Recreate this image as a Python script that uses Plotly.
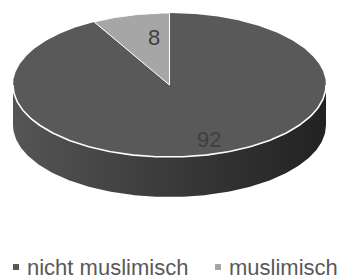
import numpy as np
import plotly.graph_objects as go

# ---- data ----
categories = ["nicht muslimisch", "muslimisch"]
values = [92, 8]
top_colors = ["#595959", "#a6a6a6"]

# ---- geometry (pixel space) ----
W, H = 339, 277
cx, cy = 169.5, 85.0
rx, ry = 156.5, 72.0
depth = 40.0

def ell(theta_deg, dy=0.0):
    t = np.radians(theta_deg)
    return cx + rx * np.cos(t), cy - ry * np.sin(t) + dy

fig = go.Figure()

# side (front half of the cylinder)
th_front = np.linspace(180, 360, 181)
xt, yt = ell(th_front)
xb, yb = ell(th_front[::-1], depth)
fig.add_trace(go.Scatter(
    x=np.concatenate([xt, xb, xt[:1]]), y=np.concatenate([yt, yb, yt[:1]]),
    mode="lines", fill="toself", line=dict(width=0, color="#333333"),
    fillgradient=dict(type="horizontal",
                      colorscale=[[0, "#555555"], [0.5, "#3a3a3a"], [1, "#222222"]]),
    hoverinfo="skip", showlegend=False))

# top slices (clockwise from 12 o'clock)
total = float(sum(values))
cum = 0.0
label_pos = []
for cat, v, col in zip(categories, values, top_colors):
    a0 = 90 - cum / total * 360
    a1 = 90 - (cum + v) / total * 360
    th = np.linspace(a0, a1, max(3, int(abs(a0 - a1) * 2)))
    ex, ey = ell(th)
    xs = np.concatenate([[cx], ex, [cx]])
    ys = np.concatenate([[cy], ey, [cy]])
    fig.add_trace(go.Scatter(
        x=xs, y=ys, mode="lines", fill="toself", fillcolor=col,
        line=dict(color="white", width=1 if v / total < 0.5 else 0),
        hoverinfo="skip", showlegend=False))
    label_pos.append((a0 + a1) / 2)
    cum += v

# white rim on the front edge
fig.add_trace(go.Scatter(x=xt, y=yt, mode="lines",
                         line=dict(color="white", width=1.6),
                         hoverinfo="skip", showlegend=False))

# data labels
shifts = [(9, 0), (9, 4)]
fracs = [0.78, 0.62]
for v, mid, f, (sx, sy) in zip(values, label_pos, fracs, shifts):
    lx, ly = cx + rx * f * np.cos(np.radians(mid)), cy - ry * f * np.sin(np.radians(mid))
    fig.add_annotation(x=lx, y=ly, text=str(v), showarrow=False,
                       xshift=sx, yshift=sy,
                       font=dict(family="Liberation Sans, Arial, sans-serif",
                                 size=22, color="#404040"))

# legend (custom)
leg_x = [16, 218]
leg_y = 267
for cat, col, lxp in zip(categories, top_colors, leg_x):
    fig.add_trace(go.Scatter(x=[lxp], y=[leg_y], mode="markers",
                             marker=dict(symbol="square", size=6, color=col),
                             hoverinfo="skip", showlegend=False))
    fig.add_annotation(x=lxp + 9, y=leg_y, text=cat, showarrow=False,
                       xanchor="left", yanchor="middle",
                       font=dict(family="Liberation Sans, Arial, sans-serif",
                                 size=22, color="#595959"))

fig.update_layout(
    width=W, height=H, margin=dict(l=0, r=0, t=0, b=0),
    paper_bgcolor="white", plot_bgcolor="white",
    xaxis=dict(range=[0, W], visible=False, fixedrange=True),
    yaxis=dict(range=[H, 0], visible=False, fixedrange=True),
    showlegend=False,
)
fig.write_html("out.html", config={"displayModeBar": False},
               post_script="document.body.style.margin='0';document.body.style.overflow='hidden';")
